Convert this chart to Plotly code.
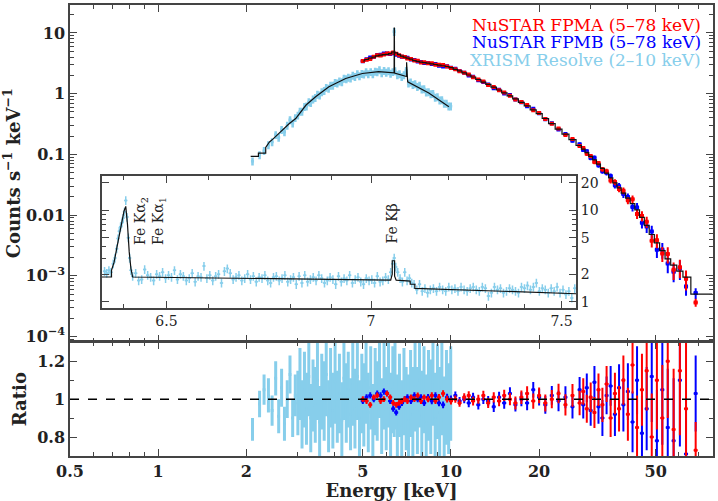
import math
import plotly.graph_objects as go

# ---------------- data ----------------
# XRISM Resolve, broad band (keV, counts/s/keV, ratio, ratio error)
xrism_e = [2.10, 2.22, 2.30, 2.38, 2.45, 2.52, 2.58, 2.64, 2.70, 2.76, 2.82, 2.88, 2.94,
           3.00, 3.05, 3.10, 3.16, 3.21, 3.27, 3.32, 3.38, 3.44, 3.50,
           3.56, 3.62, 3.69, 3.75, 3.82, 3.88, 3.95, 4.02, 4.09, 4.16,
           4.24, 4.31, 4.39, 4.46, 4.54, 4.62, 4.70, 4.79, 4.87, 4.96,
           5.04, 5.13, 5.22, 5.32, 5.41, 5.51, 5.60, 5.70, 5.80, 5.91,
           6.01, 6.12, 6.22, 6.33, 6.40, 6.44, 6.56, 6.67, 6.79, 6.91,
           7.03, 7.16, 7.28, 7.41, 7.54, 7.68, 7.81, 7.95, 8.09, 8.23,
           8.38, 8.53, 8.68, 8.83, 8.99, 9.15, 9.31, 9.48, 9.65, 9.82, 9.98]
xrism_c = [0.077, 0.098, 0.115, 0.143, 0.16, 0.21, 0.19, 0.255, 0.235, 0.30, 0.37, 0.325, 0.40,
           0.44, 0.51, 0.51, 0.61, 0.62, 0.73, 0.71, 0.81, 0.86, 0.97,
           0.94, 1.07, 1.12, 1.26, 1.22, 1.37, 1.36, 1.52, 1.49, 1.61,
           1.56, 1.78, 1.74, 1.85, 1.79, 1.99, 1.91, 2.12, 1.95, 2.13,
           2.09, 2.27, 2.11, 2.29, 2.12, 2.32, 2.28, 2.45, 2.20, 2.38,
           2.23, 2.37, 2.16, 2.29, 10.5, 2.36, 2.04, 2.12, 1.90, 2.04,
           2.40, 1.48, 1.55, 1.40, 1.45, 1.30, 1.36, 1.18, 1.20, 1.06,
           1.07, 0.99, 1.00, 0.87, 0.88, 0.78, 0.79, 0.69, 0.69, 0.62, 0.62]
xrism_ratio = [0.84, 0.975, 1.05, 1.02, 0.94, 1.11, 0.91, 1.06, 0.87, 1.00, 1.13, 0.90, 1.02,
               0.98, 1.08, 0.92, 1.05, 0.95, 1.12, 0.90, 1.02, 0.97, 1.10,
               0.88, 1.04, 0.99, 1.13, 0.91, 1.06, 0.94, 1.09, 0.96, 1.03,
               0.89, 1.11, 0.98, 1.05, 0.92, 1.08, 0.95, 1.12, 0.90, 1.03,
               0.97, 1.10, 0.93, 1.06, 0.88, 1.04, 0.99, 1.12, 0.91, 1.07,
               0.95, 1.09, 0.92, 1.05, 1.00, 1.08, 0.90, 1.02, 0.86, 1.04,
               0.95, 0.89, 1.03, 0.92, 1.07, 0.94, 1.10, 0.91, 1.05, 0.88,
               1.02, 0.96, 1.09, 0.90, 1.04, 0.93, 1.06, 0.89, 1.01, 0.95, 1.03]
xrism_ratio_err = [0.06, 0.07, 0.08, 0.09, 0.08, 0.09, 0.09, 0.10, 0.09, 0.10, 0.10, 0.10, 0.11,
                   0.17, 0.19, 0.18, 0.20, 0.19, 0.21, 0.18, 0.19, 0.20, 0.21,
                   0.19, 0.20, 0.21, 0.22, 0.19, 0.21, 0.20, 0.22, 0.19, 0.21,
                   0.20, 0.22, 0.21, 0.20, 0.19, 0.22, 0.21, 0.23, 0.20, 0.21,
                   0.22, 0.23, 0.21, 0.22, 0.20, 0.23, 0.21, 0.22, 0.20, 0.23,
                   0.22, 0.24, 0.22, 0.23, 0.20, 0.24, 0.23, 0.22, 0.24, 0.23,
                   0.22, 0.24, 0.23, 0.25, 0.24, 0.23, 0.25, 0.24, 0.23, 0.25,
                   0.24, 0.25, 0.23, 0.24, 0.25, 0.24, 0.25, 0.23, 0.25, 0.24, 0.25]

# XRISM model curve
xrism_model_e = [2.07, 2.20, 2.20, 2.33, 2.33, 2.40, 2.47, 2.55, 2.66, 2.80, 2.95, 3.06, 3.20,
                 3.45, 3.83, 4.37, 4.98, 5.66, 6.20, 6.395, 6.40, 6.41, 6.415, 7.05, 7.055,
                 7.06, 7.07, 7.11, 7.115, 8.40, 9.84]
xrism_model_c = [0.093, 0.093, 0.105, 0.105, 0.13, 0.16, 0.18, 0.21, 0.26, 0.32, 0.39, 0.50, 0.65,
                 0.89, 1.30, 1.78, 2.15, 2.30, 2.25, 2.20, 12.0, 12.0, 2.18, 1.92, 3.3,
                 3.3, 1.90, 1.85, 1.57, 1.03, 0.61]

# NuSTAR FPMA / FPMB (shared energy grid)
nustar_e = [5.0, 5.15, 5.3, 5.45, 5.6, 5.75, 5.9, 6.05, 6.2, 6.35,
            6.5, 6.65, 6.8, 6.95, 7.1, 7.3, 7.5, 7.7, 7.9, 8.1,
            8.35, 8.6, 8.85, 9.1, 9.4, 9.7, 10.0, 10.35, 10.7, 11.1,
            11.5, 11.9, 12.4, 12.9, 13.4, 14.0, 14.6, 15.2, 15.9, 16.6,
            17.4, 18.2, 19.1, 20.0, 21.0, 22.1, 23.3, 24.6, 26.0, 27.5,
            28.3, 29.1, 30.0, 30.9, 31.9, 32.9, 34.0, 35.1, 36.3, 37.5,
            38.8, 40.2, 41.7, 43.2, 44.9, 46.6, 48.5, 50.5, 52.7, 55.0,
            57.6, 60.5, 63.5, 68.5]
nustar_model = [3.45, 3.65, 3.85, 4.0, 4.2, 4.3, 4.4, 4.45, 4.55, 4.85,
                4.7, 4.4, 4.15, 4.0, 3.85, 3.7, 3.5, 3.4, 3.3, 3.25,
                3.18, 3.1, 3.02, 2.95, 2.88, 2.8, 2.68, 2.52, 2.38, 2.2,
                2.03, 1.88, 1.71, 1.55, 1.42, 1.28, 1.15, 1.03, 0.92, 0.82,
                0.72, 0.63, 0.54, 0.47, 0.39, 0.32, 0.26, 0.215, 0.175, 0.14,
                0.122, 0.107, 0.093, 0.081, 0.069, 0.059, 0.049, 0.041, 0.034, 0.028,
                0.023, 0.019, 0.0155, 0.0122, 0.0092, 0.0068, 0.0048, 0.0035, 0.0026, 0.0019,
                0.0015, 0.0012, 0.00095, 0.0005, 0.0005]
nustar_model_e = nustar_e + [78.0]

fpma_c = [3.45, 3.61, 3.73, 4.04, 4.28, 4.26, 4.40, 4.58, 4.60, 4.75,
          4.56, 4.31, 4.11, 4.00, 3.81, 3.74, 3.50, 3.47, 3.27, 3.28,
          3.18, 3.16, 2.99, 2.98, 2.97, 2.80, 2.65, 2.52, 2.33, 2.22,
          2.07, 1.86, 1.71, 1.58, 1.39, 1.29, 1.14, 1.05, 0.92, 0.80,
          0.73, 0.65, 0.535, 0.48, 0.382, 0.32, 0.268, 0.209, 0.179, 0.137,
          0.127, 0.102, 0.094, 0.075, 0.072, 0.057, 0.053, 0.037, 0.035, 0.027,
          0.0253, 0.0175, 0.0183, 0.0104, 0.0097, 0.0078, 0.0038, 0.00385, 0.00234, 0.00228,
          0.00126, 0.00138, 0.0009, 0.000365]
fpmb_c = [3.42, 3.69, 3.93, 4.00, 4.33, 4.39, 4.58, 4.58, 4.50, 4.61,
          4.37, 4.22, 4.07, 4.00, 3.89, 3.66, 3.57, 3.40, 3.33, 3.19,
          3.21, 3.07, 3.08, 2.89, 2.79, 2.83, 2.68, 2.57, 2.36, 2.20,
          1.99, 1.90, 1.66, 1.55, 1.41, 1.23, 1.16, 1.01, 0.95, 0.80,
          0.72, 0.62, 0.567, 0.475, 0.378, 0.326, 0.257, 0.217, 0.168, 0.147,
          0.118, 0.113, 0.087, 0.088, 0.066, 0.053, 0.050, 0.044, 0.031, 0.030,
          0.0223, 0.0198, 0.0136, 0.0134, 0.0075, 0.0065, 0.0054, 0.0027, 0.0027, 0.0016,
          0.00117, 0.00132, 0.00067, 0.00052]
fpma_ratio = [1.00, 0.99, 0.97, 1.01, 1.02, 0.99, 1.00, 1.03, 1.01, 0.98,
              0.97, 0.98, 0.99, 1.00, 0.99, 1.01, 1.00, 1.02, 0.99, 1.01,
              1.00, 1.02, 0.99, 1.01, 1.03, 1.00, 0.99, 1.00, 0.98, 1.01,
              1.02, 0.99, 1.00, 1.02, 0.98, 1.01, 0.99, 1.02, 1.00, 0.98,
              1.01, 1.03, 0.99, 1.02, 0.98, 1.00, 1.03, 0.97, 1.02, 0.98,
              1.04, 0.95, 1.01, 0.93, 1.05, 0.97, 1.08, 0.90, 1.03, 0.95,
              1.10, 0.92, 1.18, 0.85, 1.05, 1.15, 0.80, 1.10, 0.90, 1.20,
              0.84, 1.15, 0.95, 0.73]
fpma_err = [0.015, 0.015, 0.015, 0.015, 0.015, 0.015, 0.015, 0.015, 0.015, 0.015,
            0.015, 0.015, 0.015, 0.015, 0.015, 0.015, 0.015, 0.015, 0.015, 0.015,
            0.016, 0.016, 0.016, 0.017, 0.017, 0.018, 0.018, 0.019, 0.020, 0.021,
            0.022, 0.023, 0.024, 0.025, 0.026, 0.027, 0.028, 0.030, 0.032, 0.034,
            0.036, 0.038, 0.040, 0.042, 0.045, 0.048, 0.052, 0.056, 0.060, 0.065,
            0.070, 0.074, 0.078, 0.082, 0.086, 0.090, 0.095, 0.100, 0.110, 0.120,
            0.13, 0.14, 0.15, 0.17, 0.19, 0.21, 0.23, 0.26, 0.28, 0.30,
            0.32, 0.34, 0.36, 0.15]
fpmb_ratio = [0.99, 1.01, 1.02, 1.00, 1.03, 1.02, 1.04, 1.03, 0.99, 0.95,
              0.93, 0.96, 0.98, 1.00, 1.01, 0.99, 1.02, 1.00, 1.01, 0.98,
              1.01, 0.99, 1.02, 0.98, 0.97, 1.01, 1.00, 1.02, 0.99, 1.00,
              0.98, 1.01, 0.97, 1.00, 0.99, 0.96, 1.01, 0.98, 1.03, 0.97,
              1.00, 0.98, 1.05, 1.01, 0.97, 1.02, 0.99, 1.01, 0.96, 1.05,
              0.97, 1.06, 0.94, 1.09, 0.96, 0.90, 1.02, 1.07, 0.92, 1.06,
              0.97, 1.04, 0.88, 1.10, 0.82, 0.95, 1.12, 0.78, 1.05, 0.85,
              0.78, 1.10, 0.71, 1.03]
fpmb_err = [0.016, 0.016, 0.016, 0.016, 0.016, 0.016, 0.016, 0.016, 0.016, 0.016,
            0.016, 0.016, 0.016, 0.016, 0.016, 0.016, 0.016, 0.016, 0.016, 0.016,
            0.017, 0.017, 0.017, 0.018, 0.018, 0.019, 0.019, 0.020, 0.021, 0.022,
            0.023, 0.024, 0.025, 0.026, 0.027, 0.028, 0.029, 0.031, 0.033, 0.035,
            0.037, 0.039, 0.041, 0.044, 0.047, 0.050, 0.054, 0.058, 0.062, 0.067,
            0.072, 0.076, 0.080, 0.085, 0.090, 0.095, 0.100, 0.105, 0.115, 0.125,
            0.14, 0.15, 0.16, 0.18, 0.20, 0.22, 0.24, 0.27, 0.29, 0.31,
            0.33, 0.35, 0.30, 0.20]

# inset: XRISM Fe K region
inset_e = [6.356, 6.361, 6.366, 6.371, 6.376, 6.380, 6.384, 6.387, 6.390, 6.393,
           6.396, 6.399, 6.402, 6.405, 6.408, 6.411, 6.414, 6.417, 6.421, 6.428,
           6.435, 6.442, 6.449, 6.456, 6.463, 6.470, 6.477, 6.484, 6.491, 6.498,
           6.505, 6.512, 6.519, 6.526, 6.533, 6.540, 6.547, 6.554, 6.561, 6.568,
           6.575, 6.582, 6.589, 6.596, 6.603, 6.610, 6.617, 6.624, 6.631, 6.638,
           6.645, 6.652, 6.659, 6.666, 6.673, 6.680, 6.687, 6.694, 6.701, 6.708,
           6.715, 6.722, 6.729, 6.736, 6.743, 6.750, 6.757, 6.764, 6.771, 6.778,
           6.785, 6.792, 6.799, 6.806, 6.813, 6.820, 6.827, 6.834, 6.841, 6.848,
           6.855, 6.862, 6.869, 6.876, 6.883, 6.890, 6.897, 6.904, 6.911, 6.918,
           6.925, 6.932, 6.939, 6.946, 6.953, 6.960, 6.967, 6.974, 6.981, 6.988,
           6.995, 7.002, 7.009, 7.016, 7.023, 7.030, 7.037, 7.044, 7.050, 7.055,
           7.059, 7.063, 7.068, 7.074, 7.080, 7.086, 7.092, 7.098, 7.104, 7.110,
           7.117, 7.124, 7.131, 7.138, 7.145, 7.152, 7.160, 7.168, 7.176, 7.184,
           7.192, 7.200, 7.208, 7.216, 7.224, 7.232, 7.240, 7.248, 7.256, 7.264,
           7.272, 7.280, 7.288, 7.296, 7.304, 7.312, 7.320, 7.328, 7.336, 7.344,
           7.352, 7.360, 7.368, 7.376, 7.384, 7.392, 7.400, 7.408, 7.416, 7.424,
           7.432, 7.440, 7.448, 7.456, 7.464, 7.472, 7.480, 7.488, 7.496, 7.504,
           7.512, 7.520, 7.528, 7.536]
inset_c = [2.15, 2.05, 2.20, 2.10, 2.60, 3.00, 3.80, 4.90, 5.90, 6.60,
           7.30, 8.20, 9.60, 12.8, 8.40, 5.00, 3.00, 2.20, 1.90, 2.05,
           1.70, 1.75, 2.25, 1.95, 1.85, 1.70, 2.00, 1.90, 2.10, 1.80,
           1.95, 1.85, 2.20, 1.75, 2.00, 1.90, 1.70, 1.80, 2.05, 1.65,
           1.90, 1.85, 2.45, 1.80, 1.95, 1.70, 1.90, 2.00, 1.60, 2.15,
           2.30, 2.05, 1.75, 1.85, 1.95, 1.70, 1.80, 2.00, 1.75, 1.90,
           1.65, 1.85, 1.80, 1.95, 1.70, 1.60, 1.85, 1.90, 1.70, 1.80,
           1.95, 1.65, 1.75, 1.85, 1.55, 1.90, 1.60, 1.95, 1.65, 1.75,
           1.85, 1.70, 1.95, 1.80, 1.60, 1.70, 1.85, 1.75, 1.55, 1.90,
           1.65, 1.80, 1.70, 1.95, 1.60, 1.75, 1.85, 1.65, 1.55, 1.80,
           1.70, 1.75, 1.60, 1.90, 1.65, 1.70, 1.85, 1.75, 2.10, 2.60,
           3.00, 2.40, 2.10, 1.80, 1.65, 2.10, 1.70, 1.80, 1.60, 1.55,
           1.35, 1.55, 1.30, 1.40, 1.25, 1.35, 1.40, 1.30, 1.45, 1.35,
           1.30, 1.45, 1.35, 1.40, 1.30, 1.45, 1.35, 1.30, 1.40, 1.45,
           1.35, 1.30, 1.45, 1.40, 1.15, 1.25, 1.45, 1.35, 1.40, 1.25,
           1.30, 1.40, 1.35, 1.30, 1.25, 1.45, 1.40, 1.50, 1.35, 1.45,
           1.60, 1.30, 1.40, 1.35, 1.25, 1.40, 1.30, 1.45, 1.25, 1.35,
           1.20, 1.30, 1.10, 1.40]
inset_model_e = [6.350, 6.372, 6.372, 6.378, 6.384, 6.390, 6.396, 6.401, 6.405, 6.409,
                 6.413, 6.417, 6.421, 7.046, 7.050, 7.054, 7.054, 7.060, 7.060, 7.064,
                 7.100, 7.100, 7.112, 7.112, 7.540]
inset_model_c = [1.86, 1.86, 2.20, 2.70, 3.80, 5.50, 7.60, 9.80, 11.0, 7.00,
                 3.50, 2.30, 1.86, 1.72, 1.72, 2.00, 2.80, 2.80, 1.90, 1.72,
                 1.68, 1.55, 1.55, 1.40, 1.22]

# ---------------- styling ----------------
RED, BLUE, SKY = "#ff0000", "#0000ff", "#87ceeb"
SERIF = "DejaVu Serif"
AXC = "#444444"
TXT = "#222222"

# plot area in pixels -> paper coords
L, R, T, B, W, H = 70, 4, 3, 45, 718, 501
PW, PH = W - L - R, H - T - B


def px(x):
    return (x - L) / PW


def py(y):
    return (H - B - y) / PH


fig = go.Figure()


def errpts(x, y, xa, ya, col, yerr=None, ypct=None, xpct=1.0, th=1.5, size=2,
           symbol="square"):
    ey = dict(type="data", array=yerr, thickness=th, width=0, color=col) if yerr is not None \
        else dict(type="percent", value=ypct, thickness=th, width=0, color=col)
    fig.add_trace(go.Scatter(
        x=x, y=y, xaxis=xa, yaxis=ya, mode="markers",
        marker=dict(size=size, color=col, symbol=symbol, line=dict(width=0)),
        error_y=ey,
        error_x=dict(type="percent", value=xpct, thickness=th, width=0, color=col),
        hoverinfo="skip"))


# main panel (x2/y2)
errpts(xrism_e, xrism_c, "x2", "y2", SKY, ypct=15, xpct=1.2, th=2.6, size=2)
errpts(nustar_e, fpmb_c, "x2", "y2", BLUE,
       yerr=[c * e for c, e in zip(fpmb_c, fpmb_err)], xpct=1.6, th=2, size=4)
errpts(nustar_e, fpma_c, "x2", "y2", RED,
       yerr=[c * e for c, e in zip(fpma_c, fpma_err)], xpct=1.6, th=2, size=4)
fig.add_trace(go.Scatter(x=nustar_model_e, y=nustar_model, xaxis="x2", yaxis="y2",
                         mode="lines", line=dict(color="#111", width=1.2, shape="hvh"),
                         hoverinfo="skip"))
fig.add_trace(go.Scatter(x=xrism_model_e, y=xrism_model_c, xaxis="x2", yaxis="y2",
                         mode="lines", line=dict(color="#111", width=1.2),
                         hoverinfo="skip"))

# ratio panel (x/y)
errpts(xrism_e, xrism_ratio, "x", "y", SKY, yerr=xrism_ratio_err, xpct=1.1, th=3, size=2)
errpts(nustar_e, fpmb_ratio, "x", "y", BLUE, yerr=fpmb_err, xpct=1.6, th=2, size=3)
errpts(nustar_e, fpma_ratio, "x", "y", RED, yerr=fpma_err, xpct=1.6, th=2, size=3)

# inset (x3/y3)
errpts(inset_e, inset_c, "x3", "y3", SKY, ypct=11, xpct=0.06, th=1.5, size=2)
fig.add_trace(go.Scatter(x=inset_model_e, y=inset_model_c, xaxis="x3", yaxis="y3",
                         mode="lines", line=dict(color="#111", width=1.2),
                         hoverinfo="skip"))

tickfont = dict(family=SERIF, size=16, color=TXT, weight="bold")
common = dict(ticks="inside", tickcolor=AXC, tickwidth=1.3, showline=True, linecolor=AXC,
              linewidth=1.5, mirror="ticks", showgrid=False, zeroline=False)
xticks = [0.5, 1, 2, 5, 10, 20, 50]
xminor = [0.6, 0.7, 0.8, 0.9, 3, 4, 6, 7, 8, 9, 30, 40, 60, 70]
xrange_ = [math.log10(0.5), math.log10(78.5)]
ydec = [1e-4, 1e-3, 0.01, 0.1, 1, 10]
yminor = [m * 10 ** k for k in range(-5, 2) for m in range(2, 10)]

fig.update_layout(
    width=W, height=H, margin=dict(l=L, r=R, t=T, b=B),
    paper_bgcolor="white", plot_bgcolor="white", showlegend=False,
    xaxis=dict(type="log", range=xrange_, domain=[0, 1], anchor="y",
               tickvals=xticks, ticktext=[str(v) for v in xticks], ticklen=7,
               minor=dict(tickvals=xminor, ticks="inside", ticklen=4, tickcolor=AXC),
               tickfont=tickfont,
               title=dict(text="Energy [keV]", font=dict(family=SERIF, size=18, color=TXT,
                                                       weight="bold"), standoff=2),
               **common),
    yaxis=dict(range=[0.7, 1.3], domain=[0, 0.252], anchor="x",
               tickvals=[0.8, 1, 1.2], ticktext=["0.8", "1", "1.2"], ticklen=7,
               minor=dict(tickvals=[0.9, 1.1], ticks="inside", ticklen=4, tickcolor=AXC),
               tickfont=tickfont,
               title=dict(text="Ratio", font=dict(family=SERIF, size=18, color=TXT,
                                                  weight="bold"), standoff=6),
               **common),
    xaxis2=dict(type="log", range=xrange_, domain=[0, 1], anchor="y2", matches="x",
                tickvals=xticks, ticklen=7, showticklabels=False,
                minor=dict(tickvals=xminor, ticks="inside", ticklen=4, tickcolor=AXC),
                **common),
    yaxis2=dict(type="log", range=[-4.08, 1.46], domain=[0.254, 1], anchor="x2",
                tickvals=ydec,
                ticktext=["10<sup>−4</sup>", "10<sup>−3</sup>", "0.01", "0.1", "1", "10"],
                ticklen=7,
                minor=dict(tickvals=yminor, ticks="inside", ticklen=4, tickcolor=AXC),
                tickfont=tickfont,
                title=dict(text="Counts s<sup>−1</sup> keV<sup>−1</sup>",
                           font=dict(family=SERIF, size=18, color=TXT, weight="bold"),
                           standoff=6),
                **common),
    xaxis3=dict(type="log", range=[math.log10(6.35), math.log10(7.54)],
                domain=[px(102), px(577)], anchor="y3",
                tickvals=[6.5, 7, 7.5], ticktext=["6.5", "7", "7.5"], ticklen=7,
                minor=dict(tickvals=[6.4, 6.6, 6.7, 6.8, 6.9, 7.1, 7.2, 7.3, 7.4],
                           ticks="inside", ticklen=4, tickcolor=AXC),
                tickfont=dict(family=SERIF, size=14, color=TXT),
                **common),
    yaxis3=dict(type="log", range=[math.log10(0.86), math.log10(23.5)],
                domain=[py(307), py(175)], anchor="x3", side="right",
                tickvals=[1, 2, 5, 10, 20], ticktext=["1", "2", "5", "10", "20"], ticklen=7,
                minor=dict(tickvals=[3, 4, 6, 7, 8, 9], ticks="inside", ticklen=4,
                           tickcolor=AXC),
                tickfont=dict(family=SERIF, size=14, color=TXT),
                **common),
)

# dashed unity line in the ratio panel
fig.add_shape(type="line", xref="x domain", yref="y", x0=0, x1=1, y0=1, y1=1,
              line=dict(color="black", width=1.5, dash="dash"))

# legend as coloured text
for label, col, ypix in [("NuSTAR FPMA (5–78 keV)", RED, 23),
                         ("NuSTAR FPMB (5–78 keV)", BLUE, 40.5),
                         ("XRISM Resolve (2–10 keV)", SKY, 58)]:
    fig.add_annotation(text=label, xref="paper", yref="paper", x=px(704), y=py(ypix),
                       xanchor="right", yanchor="middle", showarrow=False,
                       font=dict(family=SERIF, size=17, color=col))

# line labels in the inset
fig.add_annotation(text="Fe Kα<sub>2</sub><br>Fe Kα<sub>1</sub>", xref="paper", yref="paper",
                   x=px(150), y=py(220), xanchor="center", yanchor="middle", align="left",
                   textangle=-90, showarrow=False, font=dict(family=SERIF, size=14, color=TXT))
fig.add_annotation(text="Fe Kβ", xref="paper", yref="paper",
                   x=px(393), y=py(222), xanchor="center", yanchor="middle",
                   textangle=-90, showarrow=False, font=dict(family=SERIF, size=14, color=TXT))

# the page's default body margin would shift the figure
fig.write_html("out.html", config={"displayModeBar": False},
               post_script="document.body.style.margin='0px';")
